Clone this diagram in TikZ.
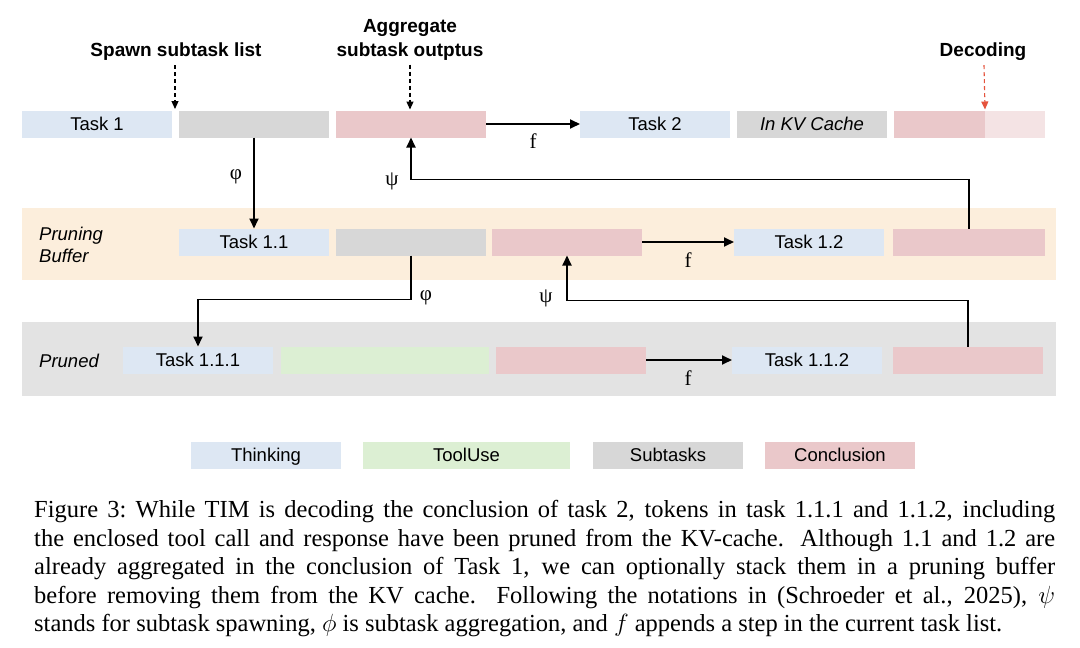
\documentclass[tikz,border=0pt]{standalone}
\usepackage{fontspec}
\setsansfont{Liberation Sans}
\newfontfamily\capfont{Liberation Serif}
\newfontfamily\grk{Liberation Serif}
\usetikzlibrary{arrows.meta,calc}
\definecolor{think}{HTML}{DDE7F3}
\definecolor{tool}{HTML}{DCEFD3}
\definecolor{subt}{HTML}{D7D7D7}
\definecolor{concl}{HTML}{EAC8CA}
\definecolor{conclL}{HTML}{F4E3E4}
\definecolor{bufbg}{HTML}{FCEEDC}
\definecolor{prunbg}{HTML}{E3E3E3}
\definecolor{decred}{HTML}{E5533D}
\begin{document}
\begin{tikzpicture}[x=1pt,y=-1pt,
  bar/.style={minimum height=27pt, minimum width=150pt, inner sep=0pt, outer sep=0pt, anchor=west,
    text height=13.2pt, text depth=0pt, font=\sffamily\fontsize{18.5}{20}\selectfont},
  bgband/.style={inner sep=0pt, outer sep=0pt, anchor=north west},
  toplabel/.style={font=\sffamily\bfseries\fontsize{19}{24}\selectfont, align=center, inner sep=0pt},
  rowlabel/.style={font=\sffamily\itshape\fontsize{18.5}{22}\selectfont, align=left, anchor=west, inner sep=0pt},
  flow/.style={line width=1.8pt, -{Triangle[length=10pt,width=9pt]}},
  dasharrow/.style={line width=1.1pt, dash pattern=on 4pt off 3pt, -{Triangle[length=8pt,width=7pt]}},
  sym/.style={font=\grk\fontsize{21}{24}\selectfont, inner sep=0pt}
]
\useasboundingbox (0,0) rectangle (1080,648);
\fill[white] (0,0) rectangle (1080,648);

% background bands
\node[bgband, fill=bufbg, minimum width=1034pt, minimum height=72pt] (buf) at (22,208) {};
\node[bgband, fill=prunbg, minimum width=1034pt, minimum height=74pt] (prn) at (22,322) {};
\node[rowlabel] (lbuf) at (39,245) {Pruning\\Buffer};
\node[rowlabel] (lprn) at (39,361) {Pruned};

% row 1
\node[bar, fill=think] (t1) at (22,124) {Task 1};
\node[bar, fill=subt] (g1) at (179,124) {};
\node[bar, fill=concl] (p1) at (336,124) {};
\node[bar, fill=think] (t2) at (580,124) {Task 2};
\node[bar, fill=subt] (kv) at (737,124) {\itshape In KV Cache};
\node[bar, fill=concl, minimum width=91pt] (dp) at (894,124) {};
\node[bar, fill=conclL, minimum width=60pt] (dl) at (985,124) {};

% row 2
\node[bar, fill=think] (t11) at (179,242) {Task 1.1};
\node[bar, fill=subt] (g2) at (336,242) {};
\node[bar, fill=concl] (p2) at (492,242) {};
\node[bar, fill=think] (t12) at (734,242) {Task 1.2};
\node[bar, fill=concl, minimum width=152pt] (c12) at (893,242) {};

% row 3
\node[bar, fill=think] (t111) at (123,360) {Task 1.1.1};
\node[bar, fill=tool, minimum width=208pt] (tu) at (281,360) {};
\node[bar, fill=concl] (p3) at (496,360) {};
\node[bar, fill=think] (t112) at (732,360) {Task 1.1.2};
\node[bar, fill=concl, minimum width=150pt] (c112) at (893,360) {};

% top labels
\node[toplabel] (spawn) at (176,52) {Spawn subtask list};
\node[toplabel] (agg) at (410,40) {Aggregate\\subtask outptus};
\node[toplabel] (dec) at (983,52) {Decoding};
\coordinate (sp) at (175,109);
\draw[dasharrow] ($(spawn.south)+(-1,4)$) -- (sp);
\draw[dasharrow] ($(agg.south)+(0,4)$) -- ($(p1.north)+(-1,-1)$);
\draw[dasharrow, decred] ($(dec.south)+(1,4)$) -- ($(dp.north east)+(0,-1)$);

% row 1 connectors
\draw[flow] (g1.south -| 254,0) -- (t11.north);
\node[sym] (phi1) at (236,177) {φ};
\draw[flow] (p1.east) -- (t2.west);
\node[sym] (f1) at (533,141) {f};
\draw[flow] (c12.north) -- ++(0,-49) -| (p1.south);
\node[sym] (psi1) at (392,181) {ψ};

% row 2 connectors
\draw[flow] (g2.south) -- ++(0,44) -| (t111.north -| 198,0);
\node[sym] (phi2) at (426,298) {φ};
\draw[flow] (p2.east) -- (t12.west);
\node[sym] (f2) at (688,260) {f};
\draw[flow] (c112.north -| 968,0) -- ++(0,-46) -| (p2.south -| 567,0);
\node[sym] (psi2) at (546,298) {ψ};

% row 3 connectors
\draw[flow] (p3.east) -- (t112.west);
\node[sym] (f3) at (688,378) {f};

% legend
\node[bar, fill=think] (lg1) at (191,455) {Thinking};
\node[bar, fill=tool, minimum width=207pt] (lg2) at (363,455) {ToolUse};
\node[bar, fill=subt] (lg3) at (593,455) {Subtasks};
\node[bar, fill=concl] (lg4) at (765,455) {Conclusion};

% caption
\node[anchor=north west, inner sep=0pt, text width=1021pt, align=justify,
  font=\capfont\fontsize{24.5}{28.6}\selectfont] (cap) at (34,500)
{Figure 3:\ While TIM is decoding the conclusion of task 2, tokens in task 1.1.1 and 1.1.2, including\linebreak
the enclosed tool call and response have been pruned from the KV-cache. Although 1.1 and 1.2 are\linebreak
already aggregated in the conclusion of Task 1, we can optionally stack them in a pruning buffer\linebreak
before removing them from the KV cache. Following the notations in (Schroeder et al., 2025), $\psi$\linebreak
stands for subtask spawning, $\phi$ is subtask aggregation, and $f$ appends a step in the current task list.};
\end{tikzpicture}
\end{document}
